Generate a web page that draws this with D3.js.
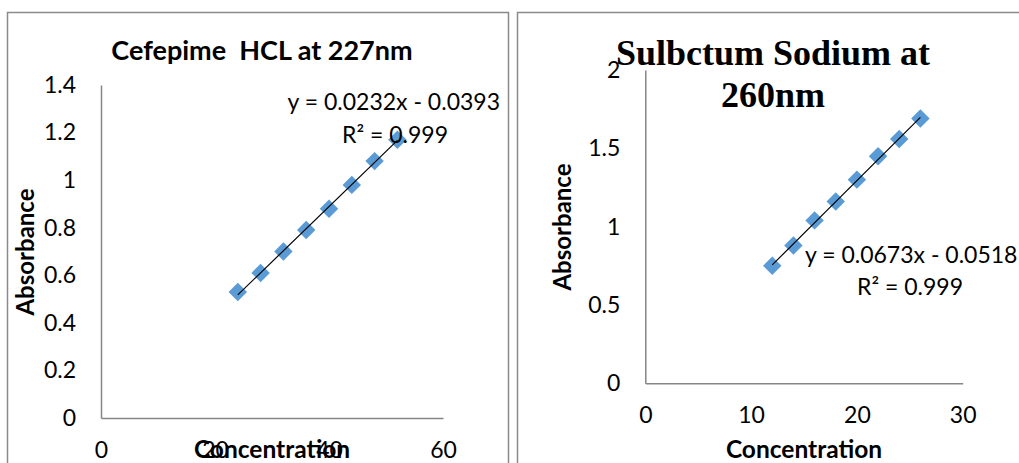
<!DOCTYPE html>
<html>
<head>
<meta charset="utf-8">
<script src="https://cdn.jsdelivr.net/npm/d3@7"></script>
<style>
  body { margin: 0; background: #fff; }
  svg { display: block; }
  text { white-space: pre; }
</style>
</head>
<body>
<div id="chart"></div>
<script>
// Cefepime HCL at 227nm
const cefConc = [24, 28, 32, 36, 40, 44, 48, 52]
const cefAbs = [0.53, 0.61, 0.70, 0.79, 0.88, 0.98, 1.08, 1.17]
const cefFit = {slope: 0.0232, intercept: -0.0393}
const cefXTicks = [0, 20, 40, 60]
const cefYTicks = [0, 0.2, 0.4, 0.6, 0.8, 1, 1.2, 1.4]

// Sulbactum sodium at 260nm
const sulConc = [12, 14, 16, 18, 20, 22, 24, 26]
const sulAbs = [0.75, 0.88, 1.04, 1.16, 1.30, 1.45, 1.56, 1.69]
const sulFit = {slope: 0.0673, intercept: -0.0518}
const sulXTicks = [0, 10, 20, 30]
const sulYTicks = [0, 0.5, 1, 1.5, 2]

const W = 1019, H = 463
const svg = d3.select("#chart").append("svg").attr("width", W).attr("height", H)

const sans = "Lato, 'Open Sans', sans-serif"

const drawChart = (o) => {
    const g = svg.append("g")
    // chart frame
    g.append("rect")
        .attr("x", o.frame[0]).attr("y", o.frame[1])
        .attr("width", o.frame[2]).attr("height", o.frame[3])
        .attr("fill", "none").attr("stroke", "#8a8a8a").attr("stroke-width", 1.5)

    const x = d3.scaleLinear().domain(o.xDomain).range([o.left, o.right])
    const y = d3.scaleLinear().domain(o.yDomain).range([o.bottom, o.top])

    // axes (no tick marks, just lines and labels)
    const xa = g.append("g").attr("transform", `translate(0,${o.bottom})`)
        .call(d3.axisBottom(x).tickValues(o.xTicks).tickSize(0).tickPadding(0).tickFormat(d3.format("")))
    xa.select(".domain").attr("stroke", "#868686").attr("stroke-width", 1.5)
    xa.selectAll("text").attr("font-family", sans).attr("font-size", 23).attr("fill", "#000")
        .attr("dy", null).attr("y", 34).attr("dominant-baseline", "middle")

    const ya = g.append("g").attr("transform", `translate(${o.left},0)`)
        .call(d3.axisLeft(y).tickValues(o.yTicks).tickSize(0).tickPadding(25).tickFormat(d3.format("")))
    ya.select(".domain").attr("stroke", "#868686").attr("stroke-width", 1.5)
    ya.selectAll("text").attr("font-family", sans).attr("font-size", 23).attr("fill", "#000")

    // axis titles
    g.append("text").text("Concentration")
        .attr("x", (o.left + o.right) / 2).attr("y", 452)
        .attr("text-anchor", "middle").attr("dominant-baseline", "middle")
        .attr("font-family", sans).attr("font-weight", "bold").attr("font-size", 24.5)
    g.append("text").text("Absorbance")
        .attr("transform", `translate(${o.yTitleX},${o.yTitleY}) rotate(-90)`)
        .attr("text-anchor", "middle").attr("dominant-baseline", "middle")
        .attr("font-family", sans).attr("font-weight", "bold").attr("font-size", 24)

    // data points
    const pts = o.xs.map((v, i) => [v, o.ys[i]])
    g.selectAll(".pt").data(pts).join("path")
        .attr("class", "pt")
        .attr("d", d3.symbol(d3.symbolSquare, 170))
        .attr("transform", d => `translate(${x(d[0])},${y(d[1])}) rotate(45)`)
        .attr("fill", "#5B9BD5")

    // linear trendline
    const ext = d3.extent(o.xs)
    const fit = v => o.fit.slope * v + o.fit.intercept
    g.append("line")
        .attr("x1", x(ext[0])).attr("y1", y(fit(ext[0])))
        .attr("x2", x(ext[1])).attr("y2", y(fit(ext[1])))
        .attr("stroke", "#000").attr("stroke-width", 1.2)

    // equation labels
    g.append("text").text(o.eq)
        .attr("x", o.eqPos[0]).attr("y", o.eqPos[1]).attr("text-anchor", o.eqAnchor)
        .attr("font-family", sans).attr("font-size", 23)
    g.append("text").text("R² = 0.999")
        .attr("x", o.r2Pos[0]).attr("y", o.r2Pos[1]).attr("text-anchor", "middle")
        .attr("font-family", sans).attr("font-size", 23)

    // title
    const t = g.append("text").attr("text-anchor", "middle")
        .attr("font-family", o.titleFont).attr("font-weight", "bold").attr("font-size", o.titleSize)
    o.title.forEach((line, i) => {
        t.append("tspan").text(line).attr("x", o.titlePos[0]).attr("y", o.titlePos[1] + i * o.titleLead)
    })
}

drawChart({
    frame: [7.5, 12.5, 501, 470],
    left: 101, right: 443, top: 85, bottom: 418,
    xDomain: [0, 60], yDomain: [0, 1.4],
    xTicks: cefXTicks, yTicks: cefYTicks,
    xs: cefConc, ys: cefAbs, fit: cefFit,
    yTitleX: 28, yTitleY: 252,
    eq: "y = 0.0232x - 0.0393", eqPos: [500, 110], eqAnchor: "end",
    r2Pos: [395, 143],
    title: ["Cefepime  HCL at 227nm"], titlePos: [262, 60], titleLead: 0,
    titleFont: sans, titleSize: 27
})

drawChart({
    frame: [517.5, 12.5, 520, 470],
    left: 645.3, right: 962.7, top: 70, bottom: 383.3,
    xDomain: [0, 30], yDomain: [0, 2],
    xTicks: sulXTicks, yTicks: sulYTicks,
    xs: sulConc, ys: sulAbs, fit: sulFit,
    yTitleX: 565, yTitleY: 227,
    eq: "y = 0.0673x - 0.0518", eqPos: [805, 263], eqAnchor: "start",
    r2Pos: [910, 295],
    title: ["Sulbctum Sodium at", "260nm"], titlePos: [773, 65], titleLead: 42,
    titleFont: "'Liberation Serif', 'Times New Roman', serif", titleSize: 36
})
</script>
</body>
</html>
